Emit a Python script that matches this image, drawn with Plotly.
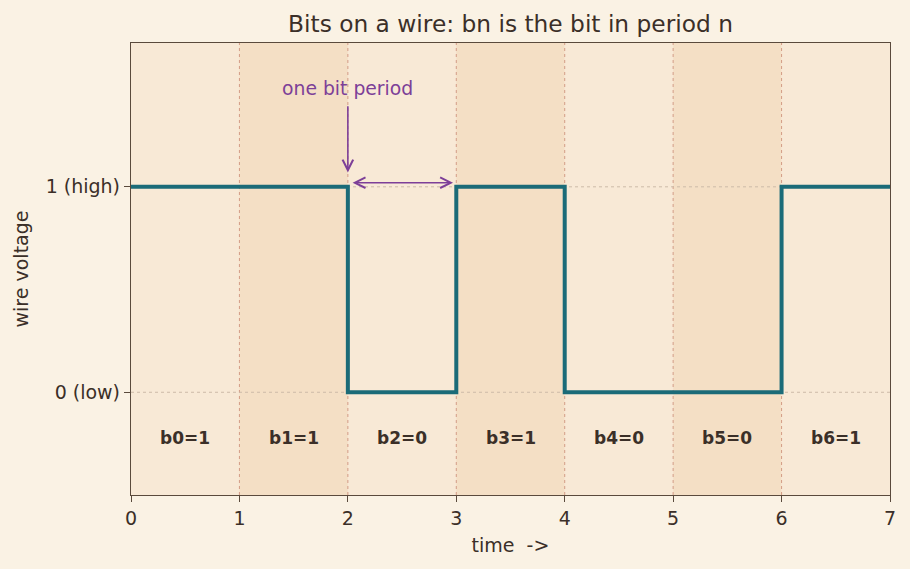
import plotly.graph_objects as go

bits = [1, 1, 0, 1, 0, 0, 1]
periods = list(range(len(bits)))
bit_labels = [f"b{i}={b}" for i, b in enumerate(bits)]
ytick_vals = [0, 1]
ytick_text = ["0 (low)", "1 (high)"]
xtick_vals = list(range(len(bits) + 1))

DARK = "#3b2f28"
TEAL = "#1b6b78"
PURPLE = "#7d3f98"
AXC = "#5a4a3c"

step_x = periods + [len(bits)]
step_y = bits + [bits[-1]]

fig = go.Figure()
fig.add_trace(go.Scatter(x=step_x, y=step_y, mode="lines", line_shape="hv",
                         line=dict(color=TEAL, width=4), hoverinfo="skip",
                         showlegend=False, cliponaxis=False))

shapes = []
for i in periods:
    shapes.append(dict(type="rect", xref="x", yref="paper", x0=i, x1=i + 1, y0=0, y1=1,
                       fillcolor="#f4dfc5" if i % 2 else "#f8e9d6", line=dict(width=0),
                       layer="below"))
for i in xtick_vals[1:-1]:
    shapes.append(dict(type="line", xref="x", yref="paper", x0=i, x1=i, y0=0, y1=1,
                       line=dict(color="#d39c86", width=1, dash="dot"), layer="below"))
for v in ytick_vals:
    shapes.append(dict(type="line", xref="paper", yref="y", x0=0, x1=1, y0=v, y1=v,
                       line=dict(color="#cdbba8", width=1, dash="dot"), layer="below"))

annotations = []
for i, lab in enumerate(bit_labels):
    annotations.append(dict(x=i + 0.5, y=-0.223, xref="x", yref="y", text=f"<b>{lab}</b>",
                            showarrow=False, font=dict(size=17, color=DARK,
                                                       family="DejaVu Sans")))
annotations.append(dict(x=2, y=1.478, xref="x", yref="y", text="one bit period",
                        showarrow=False, font=dict(size=18.8, color=PURPLE,
                                                   family="DejaVu Sans")))
annotations.append(dict(x=2, y=1.07, ax=2, ay=1.40, xref="x", yref="y", axref="x", ayref="y",
                        text="", showarrow=True, arrowhead=5, arrowsize=1.3, arrowwidth=1.6,
                        arrowcolor=PURPLE, standoff=0, startstandoff=0))
annotations.append(dict(x=2.97, y=1.02, ax=2.03, ay=1.02, xref="x", yref="y", axref="x",
                        ayref="y", text="", showarrow=True, arrowhead=5, startarrowhead=5,
                        arrowside="end+start", arrowsize=1.3, startarrowsize=1.3,
                        arrowwidth=1.6, arrowcolor=PURPLE, standoff=0, startstandoff=0))

fig.update_layout(
    width=910, height=569,
    margin=dict(l=131, r=20, t=43, b=74),
    paper_bgcolor="#faf2e4",
    plot_bgcolor="#f8e9d6",
    font=dict(family="DejaVu Sans", size=19, color=DARK),
    title=dict(text="Bits on a wire: bn is the bit in period n", xref="paper", x=0.5,
               xanchor="center", yref="container", y=1 - 24 / 569, yanchor="middle",
               font=dict(size=23.3, color=DARK)),
    shapes=shapes,
    annotations=annotations,
    showlegend=False,
)
fig.update_xaxes(range=[0, 7], tickvals=xtick_vals, ticks="outside", ticklen=6,
                 tickcolor=AXC, showgrid=False, zeroline=False, showline=True,
                 linecolor=AXC, linewidth=1.3, mirror=True,
                 title=dict(text="time\u00a0\u00a0->", font=dict(size=19), standoff=10),
                 tickfont=dict(size=19))
fig.update_yaxes(range=[-0.5, 1.7], tickvals=ytick_vals, ticktext=ytick_text,
                 ticks="outside", ticklen=6, tickcolor=AXC, showgrid=False,
                 zeroline=False, showline=True, linecolor=AXC, linewidth=1.3,
                 mirror=True, title=dict(text="wire voltage", font=dict(size=19), standoff=12),
                 tickfont=dict(size=19))

fig.write_html("out.html")
